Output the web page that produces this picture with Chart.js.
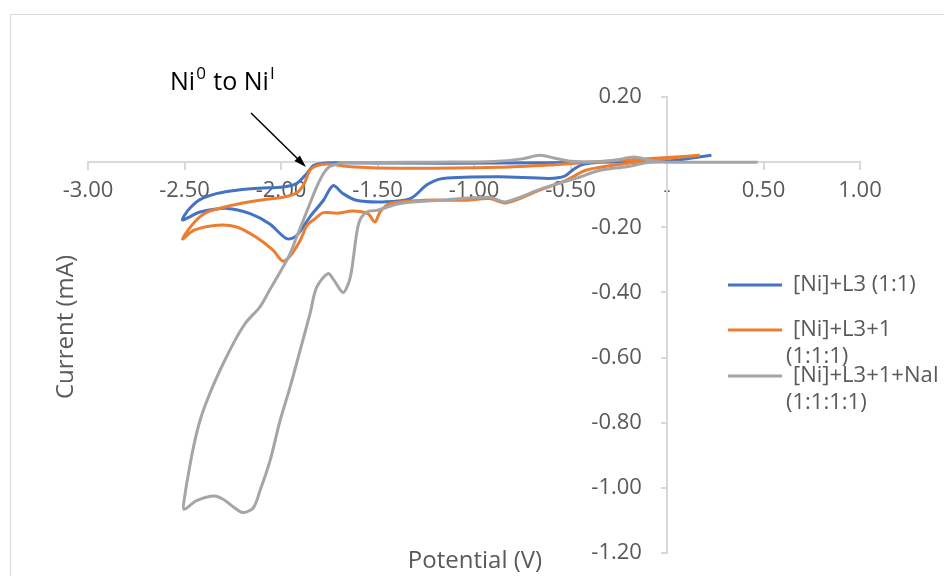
<!DOCTYPE html>
<html>
<head>
<meta charset="utf-8">
<script src="https://cdn.jsdelivr.net/npm/chart.js@4.4.1/dist/chart.umd.min.js"></script>
<style>
  html, body { margin: 0; padding: 0; background: #fff; overflow: hidden; }
  #wrap { position: relative; width: 944px; height: 576px; overflow: hidden; }
</style>
</head>
<body>
<div id="wrap"><canvas id="cvChart" width="944" height="620"></canvas></div>
<script>
(function() {

    // Series: potential (V) and current (mA), traced round each CV loop
    var seriesNames = ["[Ni]+L3 (1:1)", "[Ni]+L3+1 (1:1:1)", "[Ni]+L3+1+NaI (1:1:1:1)"];

    var blueV = [0.23, 0.12, 0.00, -0.35, -0.87, -1.38, -1.70, -1.78, -1.83, -1.865, -1.92, -1.99, -2.11, -2.23, -2.33, -2.42, -2.47, -2.50, -2.51,
                 -2.47, -2.42, -2.28, -2.16, -2.06, -1.97, -1.92, -1.85, -1.78, -1.73, -1.68, -1.61, -1.47, -1.33, -1.24, -1.16, -0.87, -0.61, -0.53, -0.48, -0.43, -0.35];
    var blueI = [0.021, 0.012, 0.003, 0.000, -0.003, -0.003, -0.002, -0.003, -0.010, -0.034, -0.066, -0.076, -0.080, -0.086, -0.096, -0.115, -0.140, -0.163, -0.178,
                 -0.167, -0.153, -0.142, -0.158, -0.189, -0.235, -0.226, -0.168, -0.117, -0.072, -0.096, -0.117, -0.122, -0.112, -0.068, -0.050, -0.045, -0.050, -0.043, -0.020, -0.006, 0.000];

    var orangeV = [0.17, 0.00, -0.24, -0.45, -0.61, -0.87, -1.38, -1.64, -1.76, -1.82, -1.85, -1.88, -1.92, -1.99, -2.11, -2.25, -2.38, -2.45, -2.51,
                   -2.45, -2.33, -2.23, -2.13, -2.04, -1.99, -1.95, -1.90, -1.865, -1.82, -1.78, -1.71, -1.63, -1.55, -1.513, -1.487, -1.435, -1.26, -1.04, -0.92, -0.83, -0.66, -0.52, -0.42, -0.21, 0.00, 0.17];
    var orangeI = [0.021, 0.014, 0.006, -0.002, -0.009, -0.016, -0.019, -0.014, -0.006, -0.012, -0.025, -0.066, -0.095, -0.108, -0.117, -0.132, -0.153, -0.185, -0.236,
                   -0.209, -0.194, -0.199, -0.230, -0.271, -0.304, -0.286, -0.240, -0.194, -0.172, -0.155, -0.157, -0.150, -0.158, -0.184, -0.153, -0.127, -0.117, -0.117, -0.112, -0.125, -0.086, -0.055, -0.025, -0.004, 0.011, 0.021];

    var grayV = [0.47, 0.00, -0.09, -0.17, -0.25, -0.35, -0.50, -0.58, -0.66, -0.75, -0.90, -1.20, -1.50, -1.69, -1.71, -1.75, -1.78, -1.815, -1.85, -1.884, -1.919, -1.953, -1.98, -2.06, -2.11, -2.18, -2.23, -2.30, -2.37, -2.42, -2.454, -2.48, -2.497, -2.503,
                 -2.44, -2.35, -2.30, -2.23, -2.195, -2.143, -2.109, -2.057, -2.005, -1.953, -1.902, -1.85, -1.815, -1.756, -1.725, -1.679, -1.651, -1.634, -1.608, -1.591, -1.556, -1.504, -1.383, -1.176, -0.917, -0.84, -0.642, -0.468, -0.347, -0.209, -0.088, 0.00, 0.47];
    var grayI = [0.000, 0.000, 0.006, 0.016, 0.008, 0.001, 0.003, 0.012, 0.021, 0.010, 0.002, 0.000, -0.001, -0.002, -0.006, -0.014, -0.035, -0.076, -0.127, -0.178, -0.230, -0.281, -0.312, -0.394, -0.445, -0.491, -0.538, -0.619, -0.712, -0.794, -0.876, -0.958, -1.019, -1.066,
                 -1.040, -1.025, -1.035, -1.066, -1.076, -1.061, -1.009, -0.917, -0.794, -0.691, -0.580, -0.466, -0.384, -0.342, -0.363, -0.400, -0.373, -0.332, -0.219, -0.178, -0.153, -0.148, -0.127, -0.117, -0.108, -0.122, -0.080, -0.049, -0.025, -0.014, 0.000, 0.000, 0.000];

    var xTicks = [-3.0, -2.5, -2.0, -1.5, -1.0, -0.5, 0, 0.5, 1.0];
    var yTicks = [0.2, 0, -0.2, -0.4, -0.6, -0.8, -1.0, -1.2];

    var blue = "#4472C4";
    var orange = "#ED7D31";
    var gray = "#A5A5A5";
    var textGray = "#595959";
    var lineGray = "#d9d9d9";
    var fontName = '"Open Sans", "Noto Sans", sans-serif';
    var target = {left: 88, top: 97, right: 860, bottom: 553};

    function toPoints(xs, ys) {
        var pts = [];
        for (var i = 0; i < xs.length; i++) {
            pts.push({x: xs[i], y: ys[i]});
        }
        return pts;
    }

    function fmt(v) {
        if (Math.abs(v) < 1e-9) return "-";
        return v.toFixed(2);
    }

    function makeSet(label, xs, ys, color, order) {
        return {
            label: label,
            data: toPoints(xs, ys),
            showLine: true,
            borderColor: color,
            backgroundColor: color,
            borderWidth: 3,
            pointRadius: 0,
            tension: 0.3,
            fill: false,
            order: order,
            xAxisID: 'x',
            yAxisID: 'y'
        };
    }

    function fixTicks(list) {
        return function(axis) {
            axis.ticks = list.map(function(v) { return {value: v}; });
        };
    }

    // frame, titles, legend and the Ni(0)/Ni(I) note
    var decorations = {
        id: 'decorations',
        beforeDraw: function(chart) {
            var ctx = chart.ctx;
            ctx.save();
            ctx.strokeStyle = lineGray;
            ctx.lineWidth = 1;
            ctx.strokeRect(10.5, 14.5, 1000, 700);
            ctx.restore();
        },
        afterDraw: function(chart) {
            var ctx = chart.ctx;
            ctx.save();

            // axis titles
            ctx.fillStyle = textGray;
            ctx.font = '24px ' + fontName;
            ctx.textAlign = 'center';
            ctx.textBaseline = 'alphabetic';
            ctx.fillText('Potential (V)', 475, 568);
            ctx.save();
            ctx.translate(73, 327);
            ctx.rotate(-Math.PI / 2);
            ctx.fillText('Current (mA)', 0, 0);
            ctx.restore();

            // legend
            var items = [
                {color: blue, y: 285, lines: ["[Ni]+L3 (1:1)"]},
                {color: orange, y: 330, lines: ["[Ni]+L3+1", "(1:1:1)"]},
                {color: gray, y: 376, lines: ["[Ni]+L3+1+NaI", "(1:1:1:1)"]}
            ];
            ctx.font = '22px ' + fontName;
            ctx.textAlign = 'left';
            ctx.textBaseline = 'middle';
            items.forEach(function(it) {
                ctx.strokeStyle = it.color;
                ctx.lineWidth = 3;
                ctx.beginPath();
                ctx.moveTo(728, it.y);
                ctx.lineTo(782, it.y);
                ctx.stroke();
                ctx.fillStyle = textGray;
                ctx.fillText(it.lines[0], 793, it.y);
                if (it.lines[1]) ctx.fillText(it.lines[1], 786, it.y + 27);
            });

            // annotation
            ctx.fillStyle = '#000';
            ctx.textBaseline = 'alphabetic';
            var x = 170;
            var parts = [["Ni", 25, 90], ["0", 17, 79], [" to Ni", 25, 90], ["I", 17, 79]];
            parts.forEach(function(p) {
                ctx.font = p[1] + 'px ' + fontName;
                ctx.fillText(p[0], x, p[2]);
                x += ctx.measureText(p[0]).width + 1;
            });

            // arrow
            var x0 = 251, y0 = 113, x1 = 306, y1 = 167;
            var ang = Math.atan2(y1 - y0, x1 - x0);
            ctx.strokeStyle = '#000';
            ctx.lineWidth = 1.5;
            ctx.beginPath();
            ctx.moveTo(x0, y0);
            ctx.lineTo(x1 - 6 * Math.cos(ang), y1 - 6 * Math.sin(ang));
            ctx.stroke();
            ctx.beginPath();
            ctx.moveTo(x1, y1);
            ctx.lineTo(x1 - 13 * Math.cos(ang - 0.3), y1 - 13 * Math.sin(ang - 0.3));
            ctx.lineTo(x1 - 13 * Math.cos(ang + 0.3), y1 - 13 * Math.sin(ang + 0.3));
            ctx.closePath();
            ctx.fill();

            ctx.restore();
        }
    };

    var tickFont = {family: fontName, size: 22};

    var cvChart = new Chart(document.getElementById('cvChart'), {
        type: 'scatter',
        data: {
            datasets: [
                makeSet(seriesNames[0], blueV, blueI, blue, 3),
                makeSet(seriesNames[1], orangeV, orangeI, orange, 2),
                makeSet(seriesNames[2], grayV, grayI, gray, 1)
            ]
        },
        options: {
            responsive: false,
            animation: false,
            layout: {padding: {left: 88, right: 84, top: 97, bottom: 67}},
            plugins: {
                legend: {display: false},
                tooltip: {enabled: false}
            },
            scales: {
                x: {
                    type: 'linear',
                    min: xTicks[0],
                    max: xTicks[xTicks.length - 1],
                    position: {y: 0},
                    afterBuildTicks: fixTicks(xTicks),
                    ticks: {callback: fmt, color: textGray, font: tickFont, padding: 8, maxRotation: 0, autoSkip: false},
                    grid: {drawOnChartArea: false, drawTicks: true, tickLength: 7, color: lineGray, lineWidth: 2},
                    border: {color: lineGray, width: 2}
                },
                // axis line and tick marks at V = 0
                y: {
                    type: 'linear',
                    min: yTicks[yTicks.length - 1],
                    max: yTicks[0],
                    position: {x: 0},
                    afterBuildTicks: fixTicks(yTicks),
                    ticks: {display: false},
                    grid: {drawOnChartArea: false, drawTicks: true, tickLength: 5, color: lineGray, lineWidth: 2},
                    border: {color: lineGray, width: 2}
                },
                // tick labels, set a little to the left of the axis line
                yLabels: {
                    axis: 'y',
                    type: 'linear',
                    min: yTicks[yTicks.length - 1],
                    max: yTicks[0],
                    position: {x: -0.13},
                    afterBuildTicks: fixTicks(yTicks),
                    ticks: {callback: fmt, color: textGray, font: tickFont, autoSkip: false},
                    grid: {display: false},
                    border: {display: false}
                }
            }
        },
        plugins: [decorations]
    });

    // nudge the padding so the plot area sits where the original one does
    for (var k = 0; k < 3; k++) {
        var ca = cvChart.chartArea;
        var pad = cvChart.options.layout.padding;
        pad.left += target.left - ca.left;
        pad.top += target.top - ca.top;
        pad.right += ca.right - target.right;
        pad.bottom += ca.bottom - target.bottom;
        cvChart.update();
    }

})();
</script>
</body>
</html>
